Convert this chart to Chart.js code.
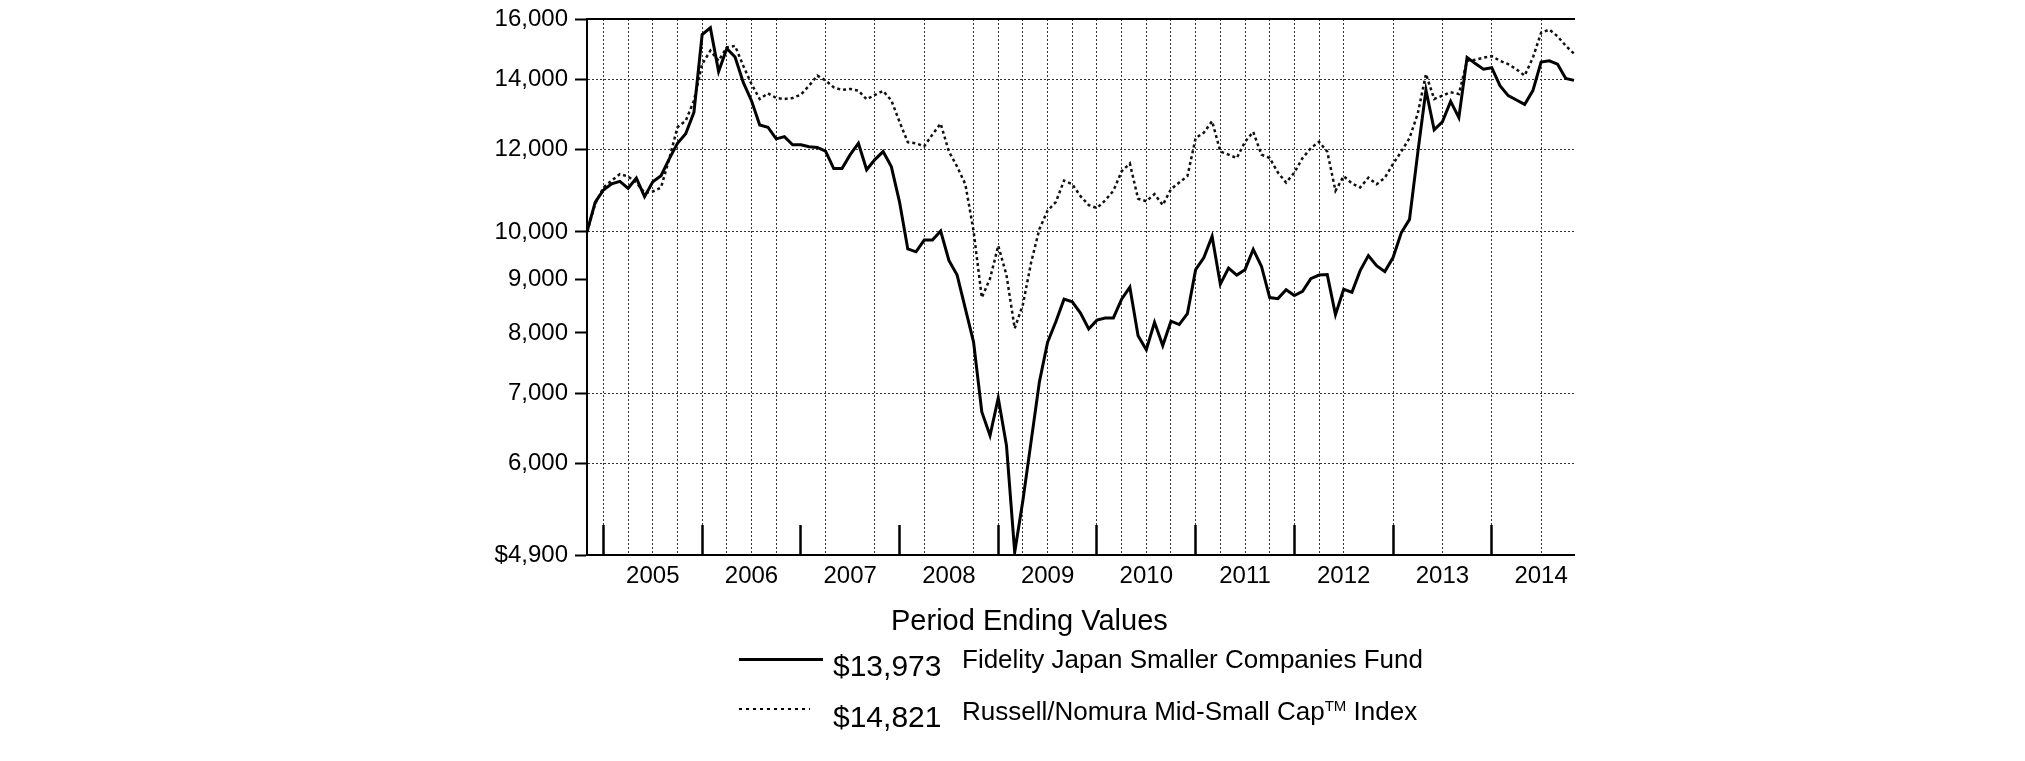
<!DOCTYPE html>
<html>
<head>
<meta charset="utf-8">
<title>Fidelity Japan Smaller Companies Fund - Period Ending Values</title>
<script src="https://cdn.jsdelivr.net/npm/chart.js@4.4.1/dist/chart.umd.min.js"></script>
<style>
  body { margin: 0; background: #fff; }
  #wrap { position: relative; width: 2025px; height: 761px; font-family: "Liberation Sans", Arial, sans-serif; color: #000; }
  #growthChart { position: absolute; left: 0; top: 0; }
  .lg { position: absolute; line-height: 1; white-space: nowrap; }
  .title { left: 891px; top: 606px; font-size: 29px; }
  .val { left: 833px; font-size: 30px; }
  .name { left: 962px; font-size: 26px; }
  .name sup { font-size: 15px; vertical-align: 9px; }
  .solid { position: absolute; left: 739px; top: 658px; width: 84px; height: 3px; background: #000; }
  .dots { position: absolute; left: 739px; top: 708px; width: 71px; height: 2px;
          background: repeating-linear-gradient(to right, #000 0 3px, transparent 3px 7px); }
</style>
</head>
<body>
<div id="wrap">
  <canvas id="growthChart" width="2025" height="761"></canvas>
  <div class="lg title">Period Ending Values</div>
  <div class="solid"></div>
  <div class="lg val" style="top:651px">$13,973</div>
  <div class="lg name" style="top:646px">Fidelity Japan Smaller Companies Fund</div>
  <div class="dots"></div>
  <div class="lg val" style="top:702px">$14,821</div>
  <div class="lg name" style="top:698px">Russell/Nomura Mid-Small Cap<sup>TM</sup> Index</div>
</div>
<script>
// Hypothetical $10,000 investment, month ends from Oct 2004 to Oct 2014
const fundValues = [
    10000, 10680, 10970, 11120, 11180, 11010, 11260, 10810, 11170, 11320,
    11750, 12160, 12420, 13020, 15460, 15690, 14250, 14990, 14710, 13910,
    13360, 12660, 12600, 12280, 12340, 12120, 12120, 12070, 12050, 11950,
    11500, 11500, 11860, 12160, 11470, 11730, 11940, 11550, 10680, 9630,
    9570, 9820, 9820, 10020, 9390, 9090, 8440, 7840, 6720, 6380,
    6930, 6240, 4930, 5530, 6300, 7180, 7840, 8200, 8620, 8570,
    8360, 8070, 8230, 8270, 8270, 8620, 8850, 7950, 7710, 8190,
    7780, 8210, 8150, 8350, 9200, 9450, 9900, 8910, 9230, 9090,
    9200, 9620, 9270, 8650, 8630, 8800, 8690, 8770, 9020, 9090,
    9100, 8330, 8810, 8750, 9180, 9490, 9280, 9160, 9450, 9980,
    10280, 11900, 13680, 12530, 12750, 13340, 12870, 14700, 14500, 14320,
    14370, 13810, 13510, 13380, 13250, 13660, 14550, 14590, 14480, 14030,
    13973
];

const indexValues = [
    10000, 10640, 11030, 11200, 11360, 11300, 11150, 10900, 10930, 11030,
    11750, 12600, 12780, 13360, 14480, 14920, 14590, 15030, 15080, 14430,
    13860, 13410, 13580, 13440, 13410, 13440, 13540, 13810, 14120, 13970,
    13760, 13680, 13710, 13660, 13400, 13530, 13650, 13370, 12750, 12190,
    12160, 12080, 12400, 12700, 11940, 11550, 11110, 10020, 8650, 9020,
    9700, 9090, 8080, 8520, 9350, 10060, 10480, 10680, 11200, 11110,
    10820, 10610, 10540, 10720, 10950, 11430, 11630, 10760, 10700, 10870,
    10610, 10990, 11150, 11310, 12300, 12450, 12770, 11940, 11860, 11770,
    12200, 12470, 11860, 11770, 11400, 11150, 11400, 11770, 12030, 12200,
    11940, 10950, 11310, 11130, 11030, 11270, 11110, 11270, 11620, 11940,
    12300, 12980, 14170, 13410, 13510, 13610, 13560, 14590, 14620, 14690,
    14740, 14590, 14480, 14320, 14120, 14690, 15520, 15630, 15400, 15080,
    14821
];

const yearLabels = ['2005', '2006', '2007', '2008', '2009', '2010', '2011', '2012', '2013', '2014'];
const yTickValues = [4900, 6000, 7000, 8000, 9000, 10000, 12000, 14000, 16000];
const yTickLabels = ['$4,900', '6,000', '7,000', '8,000', '9,000', '10,000', '12,000', '14,000', '16,000'];
const yGridValues = [6000, 7000, 10000, 12000, 14000];
// month indexes that carry a dotted vertical grid line
const xGridMonths = [2, 5, 8, 11, 14, 17, 20, 23, 29, 35, 41, 47, 50, 53, 56, 59, 62, 65, 68, 71,
    74, 77, 80, 83, 86, 89, 92, 98, 104, 110, 116];

// Build the month labels, "2004-10" ... "2014-10"
const months = [];
for (let i = 0; i < fundValues.length; i++) {
    const m = 9 + i;
    const year = 2004 + Math.floor(m / 12);
    months.push(year + '-' + String(m % 12 + 1).padStart(2, '0'));
}

// Year end marks sit on December, year labels on June
const yearEndMonths = months.map((m, i) => m.endsWith('-12') ? i : -1).filter(i => i >= 0);
const yearMidMonths = yearLabels.map(y => months.indexOf(y + '-06'));
const xTickMonths = [...new Set([...xGridMonths, ...yearEndMonths, ...yearMidMonths])].sort((a, b) => a - b);

const clear = 'rgba(0,0,0,0)';
const axisFont = { family: '"Liberation Sans", Arial, sans-serif', size: 24, lineHeight: 1 };

function drawChart() {
    const ctx = document.getElementById('growthChart').getContext('2d');
    new Chart(ctx, {
        type: 'line',
        data: {
            labels: months,
            datasets: [{
                label: 'Fidelity Japan Smaller Companies Fund',
                data: fundValues,
                borderColor: '#000',
                borderWidth: 3,
                pointRadius: 0,
                tension: 0,
                fill: false
            }, {
                label: 'Russell/Nomura Mid-Small Cap Index',
                data: indexValues,
                borderColor: '#111',
                borderWidth: 2.5,
                borderDash: [3, 3],
                pointRadius: 0,
                tension: 0,
                fill: false
            }]
        },
        options: {
            responsive: false,
            animation: false,
            events: [],
            layout: { padding: { left: 487, right: 451, top: 14, bottom: 156 } },
            plugins: { legend: { display: false }, tooltip: { enabled: false } },
            scales: {
                x: {
                    type: 'category',
                    position: 'bottom',
                    afterBuildTicks: scale => { scale.ticks = xTickMonths.map(v => ({ value: v })); },
                    afterFit: scale => { scale.height = 50; },
                    grid: {
                        color: c => (c.tick && xGridMonths.includes(c.tick.value)) ? '#333' : clear,
                        lineWidth: 1,
                        drawTicks: true,
                        tickLength: -30, // year marks point up into the plot
                        tickWidth: 2.5,
                        tickColor: c => (c.tick && yearEndMonths.includes(c.tick.value)) ? '#000' : clear
                    },
                    border: { display: true, color: '#000', width: 2, dash: [2, 2] },
                    ticks: {
                        autoSkip: false,
                        maxRotation: 0,
                        padding: 39,
                        color: '#000',
                        font: axisFont,
                        callback: value => {
                            const k = yearMidMonths.indexOf(value);
                            return k >= 0 ? yearLabels[k] : '';
                        }
                    }
                },
                top: {
                    type: 'category',
                    position: 'top',
                    afterFit: scale => { scale.height = 0; },
                    grid: { display: false, drawTicks: false },
                    ticks: { display: false },
                    border: { display: true, color: '#000', width: 2 }
                },
                y: {
                    type: 'logarithmic',
                    min: 4900,
                    max: 16000,
                    bounds: 'data',
                    afterBuildTicks: scale => { scale.ticks = yTickValues.map(v => ({ value: v })); },
                    afterFit: scale => { scale.width = 100; },
                    grid: {
                        color: c => (c.tick && yGridValues.includes(c.tick.value)) ? '#333' : clear,
                        lineWidth: 1,
                        tickLength: 12,
                        tickWidth: 2,
                        tickColor: '#000'
                    },
                    border: { display: true, color: '#000', width: 2, dash: [2, 2] },
                    ticks: {
                        padding: 7,
                        color: '#000',
                        font: axisFont,
                        callback: value => yTickLabels[yTickValues.indexOf(value)]
                    }
                }
            }
        }
    });
}

window.onload = function() {
    drawChart();
};
</script>
</body>
</html>
